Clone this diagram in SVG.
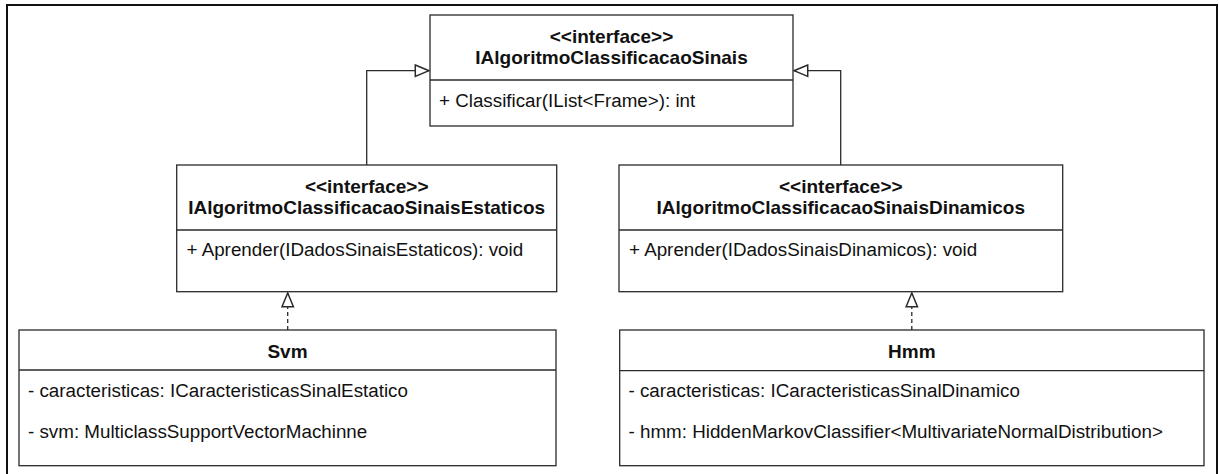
<svg xmlns="http://www.w3.org/2000/svg" width="1219" height="474" viewBox="0 0 1219 474">
  <defs>
    <style>
      .frame { fill: none; stroke: #111; stroke-width: 2; }
      .box { fill: #fff; stroke: #2a2a2a; stroke-width: 1.3; }
      .sep { stroke: #2a2a2a; stroke-width: 1.3; }
      .conn { fill: none; stroke: #2a2a2a; stroke-width: 1.3; }
      .dash { stroke-dasharray: 4 3; }
      .t { font-family: "Liberation Sans", Arial, Helvetica, sans-serif; font-size: 18.8px; fill: #111; }
      .b { font-weight: bold; font-size: 19px; }
      .c { text-anchor: middle; }
    </style>
    <marker id="tri" markerUnits="userSpaceOnUse" markerWidth="16" markerHeight="14" viewBox="0 0 14 12" refX="13" refY="6" orient="auto">
      <path d="M1,1 L13,6 L1,11 Z" fill="#fff" stroke="#2a2a2a" stroke-width="1.3"/>
    </marker>
  </defs>
  <rect width="1219" height="474" fill="#fff"/>
  <path class="frame" d="M7,480 L7,5 L1217,5 L1217,480"/>

  <g id="connectors">
    <path class="conn" d="M366.7,165 L366.7,70.7 L429,70.7" marker-end="url(#tri)"/>
    <path class="conn" d="M840.7,165 L840.7,70.7 L794,70.7" marker-end="url(#tri)"/>
    <path class="conn dash" d="M287.7,330 L287.7,293" marker-end="url(#tri)"/>
    <path class="conn dash" d="M911.8,330 L911.8,293" marker-end="url(#tri)"/>
  </g>

  <g id="IAlgoritmoClassificacaoSinais">
    <rect class="box" x="430" y="15" width="363" height="111"/>
    <line class="sep" x1="430" y1="80" x2="793" y2="80"/>
    <text class="t b c" x="611.5" y="42.5">&lt;&lt;interface&gt;&gt;</text>
    <text class="t b c" x="611.5" y="64">IAlgoritmoClassificacaoSinais</text>
    <text class="t" x="439" y="106.5">+ Classificar(IList&lt;Frame&gt;): int</text>
  </g>

  <g id="IAlgoritmoClassificacaoSinaisEstaticos">
    <rect class="box" x="176.7" y="165" width="380" height="126.7"/>
    <line class="sep" x1="176.7" y1="230" x2="556.7" y2="230"/>
    <text class="t b c" x="366.7" y="192.5">&lt;&lt;interface&gt;&gt;</text>
    <text class="t b c" x="366.7" y="214">IAlgoritmoClassificacaoSinaisEstaticos</text>
    <text class="t" x="186.5" y="256">+ Aprender(IDadosSinaisEstaticos): void</text>
  </g>

  <g id="IAlgoritmoClassificacaoSinaisDinamicos">
    <rect class="box" x="619" y="165" width="443.7" height="126.7"/>
    <line class="sep" x1="619" y1="230" x2="1062.7" y2="230"/>
    <text class="t b c" x="840.8" y="192.5">&lt;&lt;interface&gt;&gt;</text>
    <text class="t b c" x="840.8" y="214">IAlgoritmoClassificacaoSinaisDinamicos</text>
    <text class="t" x="629" y="256">+ Aprender(IDadosSinaisDinamicos): void</text>
  </g>

  <g id="Svm">
    <rect class="box" x="19" y="330" width="537" height="135.7"/>
    <line class="sep" x1="19" y1="370" x2="556" y2="370"/>
    <text class="t b c" x="287.5" y="357.5">Svm</text>
    <text class="t" x="28" y="396.5">- caracteristicas: ICaracteristicasSinalEstatico</text>
    <text class="t" x="28" y="437.5">- svm: MulticlassSupportVectorMachinne</text>
  </g>

  <g id="Hmm">
    <rect class="box" x="619.7" y="330" width="584.3" height="135.7"/>
    <line class="sep" x1="619.7" y1="370.7" x2="1204" y2="370.7"/>
    <text class="t b c" x="911.8" y="357.5">Hmm</text>
    <text class="t" x="628.5" y="396.5">- caracteristicas: ICaracteristicasSinalDinamico</text>
    <text class="t" x="628.5" y="437.5">- hmm: HiddenMarkovClassifier&lt;MultivariateNormalDistribution&gt;</text>
  </g>
</svg>
